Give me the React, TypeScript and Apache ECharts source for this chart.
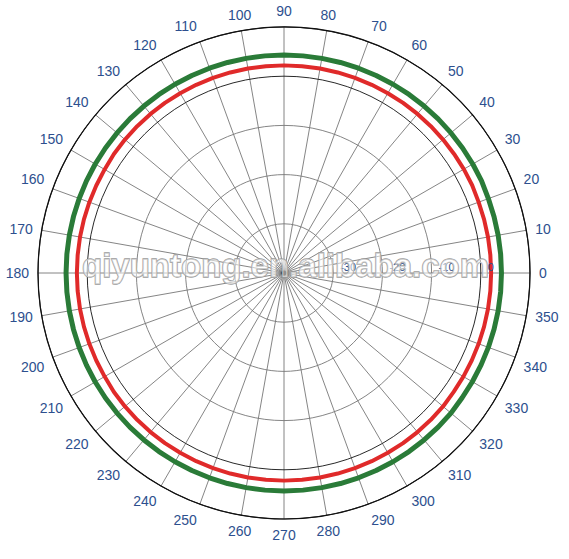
import React, { useEffect, useRef } from "react";
import * as echarts from "echarts";

const angles: number[] = [0,5,10,15,20,25,30,35,40,45,50,55,60,65,70,75,80,85,90,95,100,105,110,115,120,125,130,135,140,145,150,155,160,165,170,175,180,185,190,195,200,205,210,215,220,225,230,235,240,245,250,255,260,265,270,275,280,285,290,295,300,305,310,315,320,325,330,335,340,345,350,355,360];
const redValues: number[] = [2.1,2.1,2.1,2.1,2.1,2.2,2.2,2.2,2.2,2.2,2.2,2.2,2.2,2.2,2.2,2.2,2.2,2.2,2.2,2.2,2.2,2.2,2.2,2.2,2.2,2.2,2.2,2.2,2.2,2.2,2.1,2.1,2.1,2.1,2.1,2.1,2.1,2.1,2.1,2.1,2.1,2.1,2.1,2.2,2.2,2.2,2.2,2.2,2.2,2.2,2.2,2.2,2.2,2.2,2.2,2.2,2.2,2.2,2.2,2.2,2.2,2.2,2.2,2.2,2.2,2.1,2.1,2.1,2.1,2.1,2.1,2.1,2.1];
const greenValues: number[] = [4.2,4.2,4.2,4.2,4.2,4.3,4.3,4.3,4.3,4.3,4.3,4.3,4.3,4.3,4.3,4.3,4.3,4.3,4.3,4.3,4.3,4.3,4.3,4.3,4.3,4.3,4.3,4.3,4.3,4.3,4.3,4.3,4.3,4.3,4.3,4.3,4.3,4.3,4.3,4.3,4.3,4.3,4.3,4.3,4.3,4.3,4.3,4.3,4.3,4.3,4.3,4.3,4.3,4.3,4.3,4.3,4.3,4.3,4.3,4.3,4.3,4.3,4.3,4.3,4.3,4.2,4.2,4.2,4.2,4.2,4.2,4.2,4.2];
const radiusTicks: number[] = [-40, -30, -20, -10, 0, 10];
const watermark = "qiyuntong.en.alibaba.com";

export default function App() {
  const ref = useRef<HTMLDivElement>(null);
  useEffect(() => {
    if (!ref.current) return;
    const chart = echarts.init(ref.current, undefined, { renderer: "svg" });
    const font = "'Liberation Sans', Arial, sans-serif";
    chart.setOption({
      animation: false,
      backgroundColor: "#ffffff",
      polar: { center: [284, 273], radius: 246 },
      angleAxis: {
        type: "value",
        min: 0,
        max: 360,
        interval: 10,
        startAngle: 0,
        clockwise: false,
        axisLine: { show: true, lineStyle: { color: "#111", width: 1.2 } },
        axisTick: { show: false },
        splitLine: { show: true, lineStyle: { color: "#666", width: 0.8 } },
        axisLabel: {
          show: true,
          margin: 9,
          color: "#2d4f8e",
          fontSize: 14,
          fontFamily: font,
          formatter: (v: number) => (v >= 360 ? "" : String(v)),
        },
      },
      radiusAxis: {
        type: "value",
        min: radiusTicks[0],
        max: radiusTicks[radiusTicks.length - 1],
        interval: 10,
        z: 10,
        axisLine: { show: false },
        axisTick: { show: false },
        splitLine: {
          show: true,
          lineStyle: {
            color: ["#777", "#777", "#777", "#777", "#111", "#111"],
            width: 0.9,
          },
        },
        axisLabel: {
          show: true,
          showMinLabel: false,
          showMaxLabel: false,
          hideOverlap: false,
          margin: 1,
          align: "left",
          padding: [0, 0, 0, 7],
          color: "#2d4f8e",
          fontSize: 11,
          fontFamily: font,
        },
      },
      series: [
        {
          type: "line",
          coordinateSystem: "polar",
          data: angles.map((a, i) => [greenValues[i], a]),
          showSymbol: false,
          smooth: false,
          lineStyle: { color: "#2a7b38", width: 5 },
          z: 3,
        },
        {
          type: "line",
          coordinateSystem: "polar",
          data: angles.map((a, i) => [redValues[i], a]),
          showSymbol: false,
          smooth: false,
          lineStyle: { color: "#e02a2a", width: 4 },
          z: 3,
        },
      ],
      graphic: [
        {
          type: "circle",
          shape: { cx: 284, cy: 273, r: 2.5 },
          style: { fill: "#111" },
          z: 5,
        },
        {
          type: "text",
          x: 285.5,
          y: 265,
          z: 100,
          style: {
            text: watermark,
            fontSize: 33,
            fontWeight: "bold",
            fontFamily: font,
            align: "center",
            verticalAlign: "middle",
            fill: "rgba(255,255,255,0.55)",
            stroke: "#9c9c9c",
            lineWidth: 1.3,
          },
        },
      ],
    });
    return () => chart.dispose();
  }, []);
  return (
    <div
      ref={ref}
      style={{ position: "fixed", left: 0, top: 0, width: 569, height: 559 }}
    />
  );
}
